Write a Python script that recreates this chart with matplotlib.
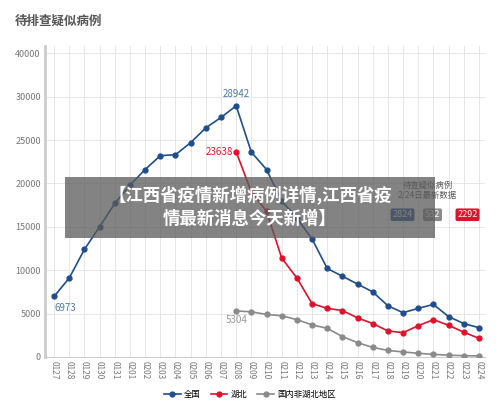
import matplotlib
matplotlib.use('Agg')
import matplotlib.pyplot as plt
from matplotlib.lines import Line2D
from matplotlib.patches import Rectangle

plt.rcParams['font.family'] = ['Noto Sans CJK SC', 'DejaVu Sans']

dates = ['0127', '0128', '0129', '0130', '0131', '0201', '0202', '0203', '0204', '0205',
         '0206', '0207', '0208', '0209', '0210', '0211', '0212', '0213', '0214', '0215',
         '0216', '0217', '0218', '0219', '0220', '0221', '0222', '0223', '0224']
national = [6973, 9100, 12400, 15000, 17700, 19800, 21600, 23200, 23300, 24700,
            26400, 27600, 28942, 23600, 21600, 18000, 16000, 13600, 10200, 9300,
            8400, 7500, 5900, 5100, 5600, 6050, 4650, 3850, 3370]
hubei = [None] * 12 + [23638, 19000, 16800, 11400, 9100, 6150, 5600, 5350,
                       4500, 3850, 3000, 2800, 3600, 4300, 3650, 2850, 2150]
others = [None] * 12 + [5304, 5200, 4900, 4750, 4300, 3700, 3300, 2350,
                        1650, 1100, 750, 580, 420, 300, 200, 150, 120]
tick_vals = [0, 5000, 10000, 15000, 20000, 25000, 30000, 35000]
tick_labels = ['0', '5000', '10000', '15000', '20000', '25000', '30000', '40000']
latest = ['2824', '532', '2292']

c_blue, c_red, c_gray = '#1f4e8c', '#e0112b', '#8a8a8a'

fig = plt.figure(figsize=(5, 4.17), dpi=100)
ax = fig.add_axes([0.09, 0.144, 0.88, 0.745])
x = list(range(len(dates)))

def series(vals):
    xs = [i for i, v in zip(x, vals) if v is not None]
    ys = [v for v in vals if v is not None]
    return xs, ys

for vals, col in [(others, c_gray), (hubei, c_red), (national, c_blue)]:
    xs, ys = series(vals)
    ax.plot(xs, ys, color=col, lw=1.2, marker='o', ms=3.5, zorder=3)

ax.set_xlim(-0.6, len(dates) - 0.6)
ax.set_ylim(0, 35800)
ax.set_xticks(x)
ax.set_xticklabels(dates, rotation=-90, fontsize=6, color='#777777')
ax.set_yticks(tick_vals)
ax.set_yticklabels(tick_labels, fontsize=6.5, color='#777777')
ax.tick_params(length=0, pad=3)
ax.grid(color='#e6e6e6', lw=0.7)
ax.set_axisbelow(True)
for s in ['top', 'right']:
    ax.spines[s].set_visible(False)
ax.spines['left'].set_color('#cccccc')
ax.spines['left'].set_linewidth(2)
ax.spines['bottom'].set_color('#cccccc')

ax.text(0, national[0] - 1300, f'{national[0]}', color='#4a78ad', fontsize=7, ha='left', va='center')
ax.text(12, national[12] + 800, f'{national[12]}', color='#4a78ad', fontsize=7, ha='center', va='bottom')
ax.text(11.8, hubei[12], f'{hubei[12]}', color=c_red, fontsize=7, ha='right', va='center')
ax.text(12, others[12] - 1100, f'{others[12]}', color='#999999', fontsize=7, ha='center', va='center')

fig.text(0.03, 0.94, '待排查疑似病例', fontsize=9, fontweight='bold', color='#555555')

# latest-data box on the right
fig.text(0.855, 0.543, '待查疑似病例\n2/24日最新数据', fontsize=6, color='#555555',
         ha='center', va='center', linespacing=1.1)
for lbl, col, xp in zip(latest, [c_blue, c_gray, c_red], [0.805, 0.865, 0.935]):
    fig.text(xp, 0.485, lbl, fontsize=6.5, color='white', ha='center', va='center',
             bbox=dict(boxstyle='round,pad=0.2', fc=col, ec='none'))

# overlay banner
fig.patches.append(Rectangle((0.13, 0.43), 0.74, 0.145, transform=fig.transFigure,
                             fc='#5a5a5a', alpha=0.75, ec='none', zorder=5))
fig.text(0.5, 0.503, '【江西省疫情新增病例详情,江西省疫\n情最新消息今天新增】', fontsize=12.5,
         fontweight='bold', color='white', ha='center', va='center', zorder=6, linespacing=1.3)

handles = [Line2D([], [], color=c, marker='o', ms=3.5, lw=1.2) for c in (c_blue, c_red, c_gray)]
fig.legend(handles, ['全国', '湖北', '国内非湖北地区'], loc='center', bbox_to_anchor=(0.5, 0.055),
           ncol=3, frameon=False, fontsize=6, handlelength=2, columnspacing=1.2, handletextpad=0.4)

fig.savefig('out.png', dpi=100)
